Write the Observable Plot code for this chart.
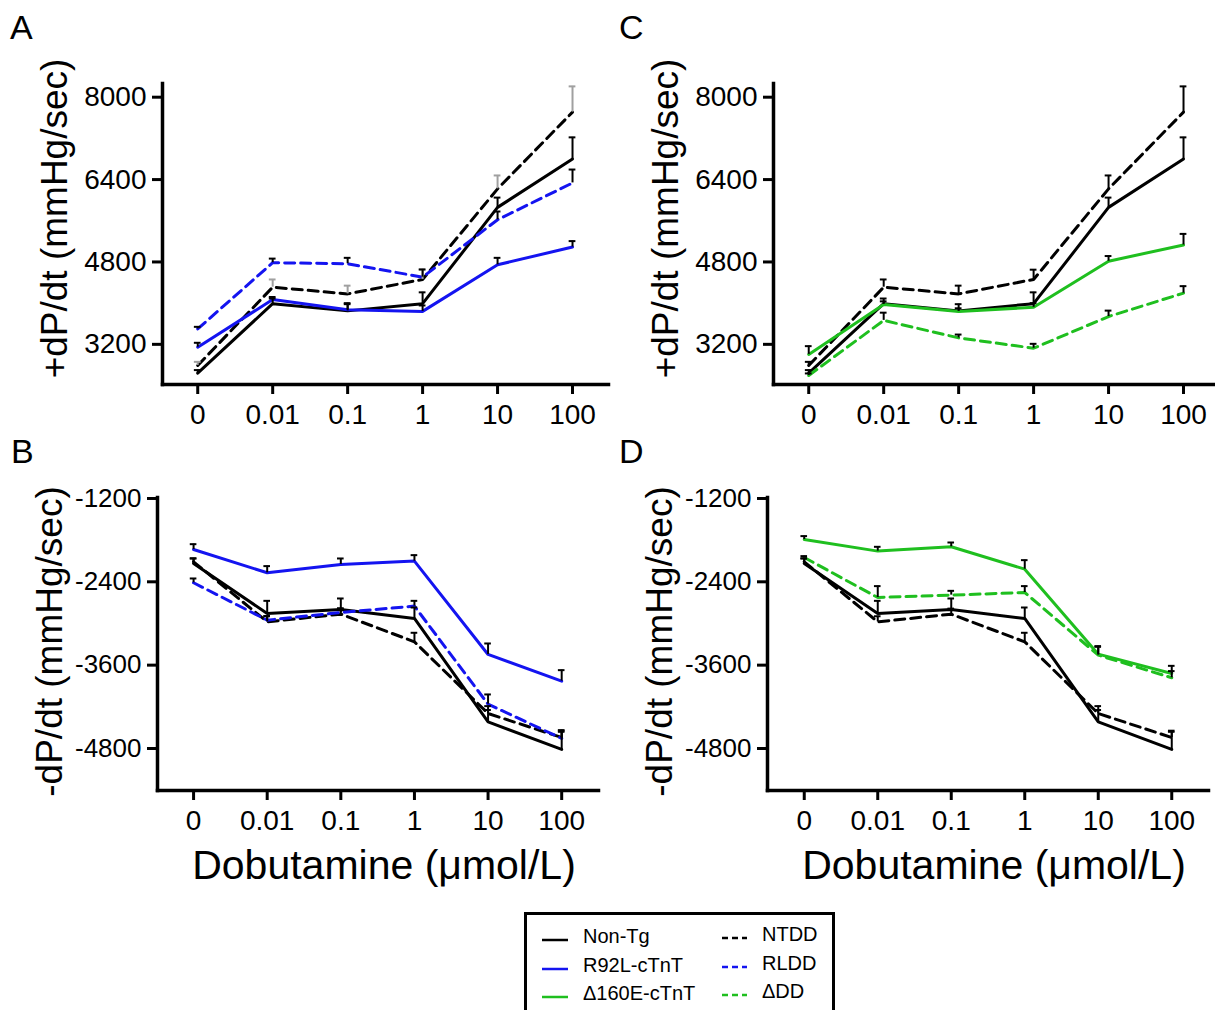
<!DOCTYPE html>
<html>
<head>
<meta charset="utf-8">
<script src="https://cdn.jsdelivr.net/npm/d3@7"></script>
<script src="https://cdn.jsdelivr.net/npm/@observablehq/plot@0.6"></script>
<style>
  html, body { margin: 0; padding: 0; background: #fff; overflow: hidden; }
  #root { position: relative; width: 1215px; height: 1010px; font-family: "Liberation Sans", Arial, sans-serif; color: #000; }
  .pane { position: absolute; }
  .letter { position: absolute; font-size: 34px; line-height: 1; }
  #legend { position: absolute; left: 524px; top: 912px; width: 311px; height: 112px; box-sizing: border-box; border: 3px solid #000; background: #fff; }
  .lg { position: absolute; font-size: 20px; line-height: 20px; white-space: nowrap; }
  .ls { position: absolute; }
</style>
</head>
<body>
<div id="root"></div>
<script>
// ---------- data ----------
const doses = ["0", "0.01", "0.1", "1", "10", "100"];

// +dP/dt (mmHg/sec)
const nonTgPlus    = [2640, 3990, 3850, 3990, 5860, 6800];
const nonTgPlusErr = [60, 100, 130, 220, 190, 420];
const ntddPlus     = [2790, 4310, 4180, 4460, 6220, 7710];
const ntddPlusErr  = [70, 150, 160, 190, 260, 500];
const r92lPlus     = [3145, 4070, 3870, 3840, 4745, 5090];
const r92lPlusErr  = [85, 50, 130, 115, 135, 115];
const rlddPlus     = [3500, 4785, 4765, 4505, 5620, 6335];
const rlddPlusErr  = [40, 80, 115, 150, 160, 260];
const d160Plus     = [3005, 3975, 3840, 3920, 4815, 5130];
const d160PlusErr  = [160, 60, 60, 80, 100, 215];
const ddPlus       = [2595, 3665, 3325, 3125, 3740, 4195];
const ddPlusErr    = [40, 150, 65, 85, 115, 135];

// -dP/dt (mmHg/sec)
const nonTgMinus    = [-2136, -2856, -2798, -2928, -4416, -4814];
const nonTgMinusErr = [72, 182, 158, 158, 170, 270];
const ntddMinus     = [-2112, -2976, -2866, -3264, -4296, -4642];
const ntddMinusErr  = [50, 80, 80, 130, 106, 82];
const r92lMinus     = [-1934, -2270, -2150, -2102, -3446, -3830];
const r92lMinusErr  = [76, 96, 86, 86, 158, 158];
const rlddMinus     = [-2414, -2952, -2842, -2750, -4162, -4656];
const rlddMinusErr  = [62, 60, 60, 76, 140, 120];
const d160Minus     = [-1790, -1958, -1896, -2218, -3442, -3720];
const d160MinusErr  = [48, 62, 62, 130, 116, 110];
const ddMinus       = [-2050, -2626, -2592, -2554, -3456, -3782];
const ddMinusErr    = [20, 164, 62, 92, 120, 96];

const plusTicks  = [3200, 4800, 6400, 8000];
const minusTicks = [-4800, -3600, -2400, -1200];

const BLACK = "#000000", BLUE = "#1414f0", GREEN = "#1fbf1f", GREY = "#a0a0a0";
const DASH = "10,6";
const FONT = "'Liberation Sans', Arial, sans-serif";

// ---------- panel builder ----------
function panel(cfg) {
  const rows = cfg.series.flatMap((s, k) =>
    s.v.map((v, i) => ({k, i, v, e: s.e[i]})));
  const marks = [];
  cfg.series.forEach((s, k) => {
    const d = rows.filter(r => r.k === k);
    marks.push(Plot.line(d, {x: "i", y: "v", stroke: s.color, strokeWidth: 3,
      strokeDasharray: s.dash ? DASH : null, strokeLinejoin: "miter"}));
  });
  cfg.series.forEach((s, k) => {
    const d = rows.filter(r => r.k === k);
    const ec = s.errColor || BLACK;
    marks.push(Plot.ruleX(d, {x: "i", y1: "v", y2: r => r.v + r.e, stroke: ec, strokeWidth: 2}));
    marks.push(Plot.ruleY(d, {y: r => r.v + r.e, x1: r => r.i - 0.045, x2: r => r.i + 0.045, stroke: ec, strokeWidth: 2}));
  });
  marks.push(Plot.frame({anchor: "left", strokeWidth: 3.5, strokeLinecap: "square"}));
  marks.push(Plot.frame({anchor: "bottom", strokeWidth: 3.5, strokeLinecap: "square"}));
  marks.push(Plot.axisX({ticks: d3.range(doses.length), tickFormat: i => doses[i],
    tickSize: 10, tickPadding: 10, strokeWidth: 3, fontSize: 28, label: null}));
  marks.push(Plot.axisY({ticks: cfg.yTicks, tickFormat: d => String(d),
    tickSize: 10, tickPadding: 6, strokeWidth: 3, fontSize: cfg.yFont, label: null}));
  marks.push(Plot.text([cfg.yTitle], {text: d => d, frameAnchor: "left", dx: -107, dy: cfg.titleDy,
    rotate: -90, fontSize: 37, textAnchor: "middle", lineAnchor: "middle"}));
  if (cfg.xTitle) {
    marks.push(Plot.text([cfg.xTitle], {text: d => d, frameAnchor: "bottom", dx: 6, dy: 75,
      fontSize: 41, textAnchor: "middle", lineAnchor: "middle"}));
  }
  const svg = Plot.plot({
    width: cfg.width, height: cfg.height,
    marginLeft: cfg.ml, marginRight: cfg.mr, marginTop: cfg.mt, marginBottom: cfg.mb,
    x: {type: "linear", domain: cfg.xDomain},
    y: {type: "linear", domain: cfg.yDomain},
    style: {fontFamily: FONT, fontSize: "28px", color: "#000", background: "transparent", overflow: "visible"},
    marks
  });
  const wrap = document.createElement("div");
  wrap.className = "pane";
  wrap.style.left = cfg.left + "px";
  wrap.style.top = cfg.top + "px";
  wrap.appendChild(svg);
  document.getElementById("root").appendChild(wrap);
}

// A
panel({left: 0, top: 0, width: 611, height: 440, ml: 162, mr: 3, mt: 83, mb: 56,
  xDomain: [-0.47, 5.48], yDomain: [2420, 8266], yTicks: plusTicks, yFont: 28,
  yTitle: "+dP/dt (mmHg/sec)", titleDy: -15.5,
  series: [
    {v: nonTgPlus, e: nonTgPlusErr, color: BLACK},
    {v: ntddPlus, e: ntddPlusErr, color: BLACK, dash: true, errColor: GREY},
    {v: r92lPlus, e: r92lPlusErr, color: BLUE},
    {v: rlddPlus, e: rlddPlusErr, color: BLUE, dash: true}
  ]});
// C
panel({left: 611, top: 0, width: 604, height: 440, ml: 162, mr: 2, mt: 83, mb: 56,
  xDomain: [-0.47, 5.4], yDomain: [2420, 8266], yTicks: plusTicks, yFont: 28,
  yTitle: "+dP/dt (mmHg/sec)", titleDy: -15.5,
  series: [
    {v: nonTgPlus, e: nonTgPlusErr, color: BLACK},
    {v: ntddPlus, e: ntddPlusErr, color: BLACK, dash: true},
    {v: d160Plus, e: d160PlusErr, color: GREEN},
    {v: ddPlus, e: ddPlusErr, color: GREEN, dash: true}
  ]});
// B
panel({left: 0, top: 440, width: 610, height: 460, ml: 157, mr: 12, mt: 57, mb: 110,
  xDomain: [-0.49, 5.5], yDomain: [-5405, -1186], yTicks: minusTicks, yFont: 26,
  yTitle: "-dP/dt (mmHg/sec)", titleDy: -2.5, xTitle: "Dobutamine (\u03bcmol/L)",
  series: [
    {v: nonTgMinus, e: nonTgMinusErr, color: BLACK},
    {v: ntddMinus, e: ntddMinusErr, color: BLACK, dash: true},
    {v: r92lMinus, e: r92lMinusErr, color: BLUE},
    {v: rlddMinus, e: rlddMinusErr, color: BLUE, dash: true}
  ]});
// D
panel({left: 610, top: 440, width: 605, height: 460, ml: 157, mr: 7, mt: 57, mb: 110,
  xDomain: [-0.5, 5.5], yDomain: [-5405, -1186], yTicks: minusTicks, yFont: 26,
  yTitle: "-dP/dt (mmHg/sec)", titleDy: -2.5, xTitle: "Dobutamine (\u03bcmol/L)",
  series: [
    {v: nonTgMinus, e: nonTgMinusErr, color: BLACK},
    {v: ntddMinus, e: ntddMinusErr, color: BLACK, dash: true},
    {v: d160Minus, e: d160MinusErr, color: GREEN},
    {v: ddMinus, e: ddMinusErr, color: GREEN, dash: true}
  ]});

// ---------- panel letters ----------
const root = document.getElementById("root");
[["A", 10, 10], ["B", 11, 434], ["C", 619, 10], ["D", 619, 434]].forEach(([t, x, y]) => {
  const d = document.createElement("div");
  d.className = "letter"; d.textContent = t;
  d.style.left = x + "px"; d.style.top = y + "px";
  root.appendChild(d);
});

// ---------- legend ----------
const legendLeft = ["Non-Tg", "R92L-cTnT", "\u0394160E-cTnT"];
const legendRight = ["NTDD", "RLDD", "\u0394DD"];
const legendColors = [BLACK, BLUE, GREEN];
const lg = document.createElement("div");
lg.id = "legend";
root.appendChild(lg);
const ox = 527, oy = 915; // inner origin of legend box
legendLeft.forEach((t, k) => {
  const cy = 940 + k * 28.5;
  const s1 = document.createElementNS("http://www.w3.org/2000/svg", "svg");
  s1.setAttribute("class", "ls"); s1.setAttribute("width", 30); s1.setAttribute("height", 6);
  s1.style.left = (542 - ox) + "px"; s1.style.top = (cy - 3 - oy) + "px";
  s1.innerHTML = `<line x1="0" x2="26" y1="3" y2="3" stroke="${legendColors[k]}" stroke-width="2.5"/>`;
  lg.appendChild(s1);
  const a = document.createElement("div");
  a.className = "lg"; a.textContent = t;
  a.style.left = (583 - ox) + "px"; a.style.top = (cy - 14 - oy) + "px";
  lg.appendChild(a);
  const s2 = document.createElementNS("http://www.w3.org/2000/svg", "svg");
  s2.setAttribute("class", "ls"); s2.setAttribute("width", 30); s2.setAttribute("height", 6);
  s2.style.left = (722 - ox) + "px"; s2.style.top = (cy - 5 - oy) + "px";
  s2.innerHTML = `<line x1="0" x2="25" y1="3" y2="3" stroke="${legendColors[k]}" stroke-width="2.5" stroke-dasharray="6,4"/>`;
  lg.appendChild(s2);
  const b = document.createElement("div");
  b.className = "lg"; b.textContent = legendRight[k];
  b.style.left = (762 - ox) + "px"; b.style.top = (cy - 16 - oy) + "px";
  lg.appendChild(b);
});
</script>
</body>
</html>
